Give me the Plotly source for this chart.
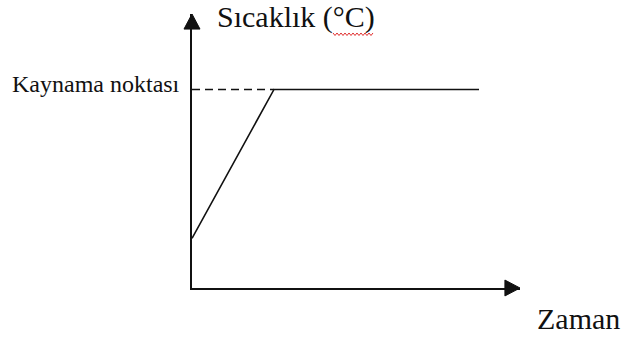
import plotly.graph_objects as go

# heating curve: temperature rises, then stays at boiling point
time = [0, 1, 3.5]
temp = [25, 100, 100]
boil_point = 100
boil_label = "Kaynama noktası"
x_title = "Zaman"
y_title = "Sıcaklık (°C)"

fig = go.Figure()

# dashed guide from the y axis to the boiling point
fig.add_trace(go.Scatter(x=[0, time[1]], y=[boil_point, boil_point],
                         mode="lines",
                         line=dict(color="#111", width=1.5, dash="8px,5px"),
                         hoverinfo="skip"))

fig.add_trace(go.Scatter(x=time, y=temp,
                         mode="lines",
                         line=dict(color="#111", width=1.6),
                         hoverinfo="skip"))

# plot area in pixels: x 192..520, y 14..288
fig.update_layout(
    width=624, height=338,
    margin=dict(l=192, r=104, t=14, b=50),
    paper_bgcolor="white", plot_bgcolor="white",
    showlegend=False,
    font=dict(family="Liberation Serif", color="#111"),
)
fig.update_xaxes(range=[0, 4], showgrid=False, zeroline=False,
                 showticklabels=False, ticks="",
                 showline=True, linecolor="#111", linewidth=2)
fig.update_yaxes(range=[0, 138], showgrid=False, zeroline=False,
                 showticklabels=False, ticks="",
                 showline=True, linecolor="#111", linewidth=2)

# arrow heads on the axes (paper coords)
fig.add_shape(type="path", xref="paper", yref="paper",
              path="M -0.0244,0.945 L 0,1.0 L 0.0244,0.945 Z",
              fillcolor="#111", line=dict(color="#111", width=1))
fig.add_shape(type="path", xref="paper", yref="paper",
              path="M 0.954,0.029 L 1.0,0 L 0.954,-0.029 Z",
              fillcolor="#111", line=dict(color="#111", width=1))

fig.add_annotation(text=y_title, xref="paper", yref="paper",
                   x=0.070, y=0.990, xanchor="left", yanchor="middle",
                   showarrow=False, font=dict(size=30))
fig.add_annotation(text=boil_label, xref="paper", yref="paper",
                   x=-0.030, y=0.745, xanchor="right", yanchor="middle",
                   showarrow=False, font=dict(size=24))
fig.add_annotation(text=x_title, xref="paper", yref="paper",
                   x=1.046, y=-0.113, xanchor="left", yanchor="middle",
                   showarrow=False, font=dict(size=30))

# red spell-check squiggle under "°C"
pts = []
for i in range(21):
    px = 333 + i * 2
    py = 33 if i % 2 == 0 else 35.5
    pts.append(f"{(px - 192) / 328:.4f},{(288 - py) / 274:.4f}")
fig.add_shape(type="path", xref="paper", yref="paper",
              path="M " + " L ".join(pts),
              line=dict(color="#e03030", width=1))

# drop the default 8px page margin so the figure fills the window
fig.write_html("out.html",
               config={"displayModeBar": False},
               post_script="document.body.style.margin='0';"
                           "document.body.style.overflow='hidden';")
